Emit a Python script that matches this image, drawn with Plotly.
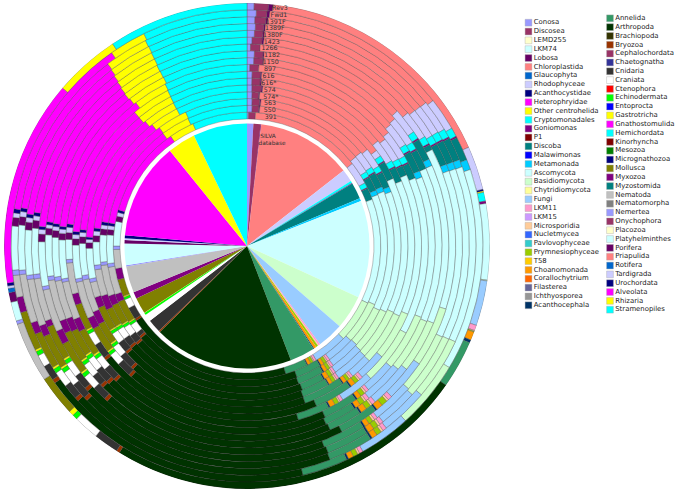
import plotly.graph_objects as go

# Rings from the centre out: the SILVA reference disc, then one ring per primer.
primers = ["391","550","563","574*","574","616*","616","897","1150","1182","1266",
           "1423","1380F","1389F","1391F","Fwd1","Rev3"]

left_names = ["Conosa","Discosea","LEMD255","LKM74","Lobosa","Chloroplastida","Glaucophyta","Rhodophyceae",
  "Acanthocystidae","Heterophryidae","Other centrohelida","Cryptomonadales","Goniomonas","P1","Discoba",
  "Malawimonas","Metamonada","Ascomycota","Basidiomycota","Chytridiomycota","Fungi","LKM11","LKM15",
  "Microsporidia","Nucletmycea","Pavlovophyceae","Prymnesiophyceae","T58","Choanomonada","Corallochytrium",
  "Filasterea","Ichthyosporea","Acanthocephala"]
left_colors = ["#9999ff","#993366","#ffffcc","#ccffff","#660066","#ff8080","#0066cc","#ccccff",
  "#000080","#ff00ff","#ffff00","#00ffff","#800080","#800000","#008080",
  "#0000ff","#00ccff","#ccffff","#ccffcc","#ffff99","#99ccff","#ff99cc","#cc99ff",
  "#ffcc99","#3366ff","#33cccc","#99cc00","#ffcc00","#ff9900","#ff6600",
  "#666699","#969696","#003366"]
right_names = ["Annelida","Arthropoda","Brachiopoda","Bryozoa","Cephalochordata","Chaetognatha","Cnidaria","Craniata",
  "Ctenophora","Echinodermata","Entoprocta","Gastrotricha","Gnathostomulida","Hemichordata","Kinorhyncha","Mesozoa",
  "Micrognathozoa","Mollusca","Myxozoa","Myzostomida","Nematoda","Nematomorpha","Nemertea","Onychophora","Placozoa",
  "Platyhelminthes","Porifera","Priapulida","Rotifera","Tardigrada","Urochordata","Alveolata","Rhizaria","Stramenopiles"]
right_colors = ["#339966","#003300","#333300","#993300","#993366","#333399","#333333","#ffffff",
  "#ff0000","#00ff00","#0000ff","#ffff00","#ff00ff","#00ffff","#800000","#008000",
  "#000080","#808000","#800080","#008080","#c0c0c0","#808080","#9999ff","#993366","#ffffcc",
  "#ccffff","#660066","#ff8080","#0066cc","#ccccff","#000080","#ff00ff","#ffff00","#00ffff"]

# Cumulative position (degrees clockwise from the top) where each taxon ends:
# SILVA, then the primers in the order above. None = taxon absent from that ring.
conosa = [3,0.7,2.1,2,1.9,1.8,1.7,1.7,0.9,2.1,2.2,1,1.4,2,2.2,2,2.3,1.7]
discosea = [6.4,3.7,4.9,5,4.4,5.2,4.6,4.5,3.8,5,4.8,3.8,4.2,4.3,4.4,4.8,4.9,5.1]
lobosa = [6.7,None,5.3,5.5,4.8,5.7,5.1,4.9,None,5.2,5.1,None,4.7,4.7,4.8,5.3,5.6,6.2]
chloroplastida = [52,52,50.7,50.6,51.3,53.6,51.3,52.3,51.3,49.8,49.3,48.1,50.4,51.1,51.2,51.3,52,66]
rhodophyceae = [58,61.9,58.1,57.7,58.8,56,59.5,60.1,60.3,57.4,57.9,55.6,58.4,59.2,59.2,59.4,60.1,76.5]
acanthocystidae = [None]*17 + [76.9]
other_centrohelida = [None]*17 + [77.2]
cryptomonadales = [59,64.1,60.3,59.9,61,58.2,61.7,62.3,62.5,59.6,60.1,57.8,60.6,61.4,61.4,61.6,62.3,79.3]
goniomonas = [59.3,64.4,60.7,60.3,61.4,58.6,62.1,62.7,62.9,60,60.5,58.2,61,61.8,61.8,62,62.7,79.9]
discoba = [67,69.6,66.6,66.3,67.4,65.2,67.2,66,68,66.5,66.6,64.5,62.5,67.7,67.8,67.9,68.6,None]
metamonada = [68.5,None,68.6,68.3,69.4,None,None,None,None,68.5,None,66.5,None,69.6,69.7,69.8,71.1,None]
ascomycota = [114.7,115.3,114.7,115.9,115.4,114.4,114.7,113,118.7,112.3,112.8,112.5,107.6,115,114.8,114.7,121,98.1]
basidiomycota = [130.9,133.9,132.3,132,132.6,133,133.2,129.4,137,130,129.2,127.7,124.4,131.5,132,130.5,137.8,98.3]
fungi = [143.4,148.8,144,144.2,145,145.2,140.9,138.7,148.1,139.8,141.3,140.6,136.2,142.8,142.3,142.6,150.6,109.1]
lkm11 = [144.2,149.8,145,145.2,146,146.1,141.8,139.8,149.1,140.8,142.4,141.7,137.4,143.7,143.3,143.6,151.5,110.4]
microsporidia = [144.6,150.3,145.6,145.8,146.6,146.7,142.4,140.4,149.6,141.4,143,142.3,138,144.3,143.9,144.2,152,110.6]
prymnesiophyceae = [145.6,151.5,146.9,147.1,148,148,143.6,141.8,151,142.8,144.5,143.8,139.7,145.5,145.3,145.5,153.2,110.8]
choanomonada = [146.8,152.9,148.2,148.5,149.7,149.3,144.9,143.4,152.7,144.2,146.1,145.5,141.5,146.8,146.9,146.9,154.5,112.8]
acanthocephala = [147.2,153.3,148.7,149,150.2,149.7,145.3,143.9,153.2,144.7,146.6,146,142,147.3,147.4,147.4,155,113.5]
annelida = [159,163.2,159.2,159.5,159,159.6,159.7,156.6,163.6,155.5,156.1,155.7,153,159,158.6,158.8,166.3,125]
arthropoda = [225.4,236,229,228,228.5,228,222.8,221.5,231,224,225,225.5,222,227.7,226,227.5,234.5,211.7]
bryozoa = [226,237,230,229,229.5,229,223.8,222.5,232,225,226,226.5,223,228.7,227,228.5,235.5,212.5]
cnidaria = [232.4,242.3,231.8,232.4,232.9,232.9,228.9,227.4,236.9,229.1,230.4,229.8,227.1,232.8,231.3,232.4,239.3,218.5]
craniata = [235.8,246.3,235.8,236.4,236.9,236.9,232.9,231.4,240.9,233.1,234.4,233.8,231.1,236.8,235.3,236.4,242.3,224.6]
echinodermata = [236.9,247.4,236.9,237.5,238,238,234,232.5,242,234.2,235.5,234.9,232.2,237.9,236.4,237.5,243.4,225.8]
gastrotricha = [237,247.9,237.4,238,238.5,238.5,234.5,233,242.5,234.7,236,235.4,232.7,238.4,236.9,238,243.9,227]
mollusca = [244.6,255.4,246.5,246.2,245.6,247.4,242.2,241.7,251,243,244,244.4,242,247.9,246,247.4,253.6,236.7]
myxozoa = [247.8,260.2,249.8,250.1,251,251.3,246.8,245.6,254.6,247,248,248.1,245.9,249.6,248.9,250.4,257.4,None]
nematoda = [260.4,268.5,261.3,262.4,261.1,256.9,258.3,258,264.6,258.9,259.6,260.1,257.8,261.2,261.3,262.8,262.8,251.2]
nemertea = [261,270,262.8,263.7,262.8,258.2,259.8,259.1,265.7,259.9,260.8,261.3,258.8,262.4,262.4,263.9,264.1,252]
platyhelminthes = [271.2,280.7,274.6,274.4,271.6,269.2,270.9,270.3,272.1,271.9,272.6,273.2,271.2,274.8,274.2,275.3,274.9,256.6]
porifera = [272.8,283,276.8,276.7,273.9,271.2,273.2,272.4,274.3,273.9,274.6,275.1,273.3,276.9,276.2,277.4,277,258.9]
rotifera = [None]*17 + [259.9]
tardigrada = [273.6,284.6,278.4,278.3,275.6,272.4,274.7,273.8,276,275.2,275.8,276.1,274.6,278.1,277.4,278.7,278.1,260.5]
urochordata = [275,285.7,279.5,279.5,276.7,273.2,275.6,274.8,277,276,276.6,276.9,275.4,279,278.3,279.6,279.1,261.2]
alveolata = [321,325.2,323.3,323.5,322,320.8,320,320,322.2,321.5,321.2,321.4,321.7,322,322.4,322.6,325,310.6]
rhizaria = [334.3,336.2,335.2,335.4,332.9,332.8,332.9,333,333.2,333.7,333.6,333.5,333.7,333.7,333.8,333.7,334.1,326.4]
stramenopiles = [360]*18

series = [("Conosa",conosa),("Discosea",discosea),("Lobosa",lobosa),("Chloroplastida",chloroplastida),
  ("Rhodophyceae",rhodophyceae),("Acanthocystidae",acanthocystidae),("Other centrohelida",other_centrohelida),
  ("Cryptomonadales",cryptomonadales),("Goniomonas",goniomonas),("Discoba",discoba),("Metamonada",metamonada),
  ("Ascomycota",ascomycota),("Basidiomycota",basidiomycota),("Fungi",fungi),("LKM11",lkm11),
  ("Microsporidia",microsporidia),("Prymnesiophyceae",prymnesiophyceae),("Choanomonada",choanomonada),
  ("Acanthocephala",acanthocephala),("Annelida",annelida),("Arthropoda",arthropoda),("Bryozoa",bryozoa),
  ("Cnidaria",cnidaria),("Craniata",craniata),("Echinodermata",echinodermata),("Gastrotricha",gastrotricha),
  ("Mollusca",mollusca),("Myxozoa",myxozoa),("Nematoda",nematoda),("Nemertea",nemertea),
  ("Platyhelminthes",platyhelminthes),("Porifera",porifera),("Rotifera",rotifera),("Tardigrada",tardigrada),
  ("Urochordata",urochordata),("Alveolata",alveolata),("Rhizaria",rhizaria),("Stramenopiles",stramenopiles)]

label_angles = [10.5,9.6,9.2,9.1,8.3,7.6,7.2,7.4,7.4,7.5,6.5,6.9,7,7.3,7.3,7.9,7.9]

# Layout constants (px of the 678x495 page).
W, H = 678, 495
CX, CY, R = 247, 246, 243
DISC_R, RING0, RING_W = 122.5, 127, 6.82

color_of = dict(zip(left_names + right_names, left_colors + right_colors))
fig = go.Figure()
previous = [0.0] * 18
for name, ends in series:
    rs, bases, thetas, widths, outlines = [], [], [], [], []
    for i, end in enumerate(ends):
        if end is None:
            continue
        start = previous[i]
        previous[i] = end
        rs.append(DISC_R if i == 0 else RING_W)
        bases.append(0 if i == 0 else RING0 + RING_W * (i - 1))
        thetas.append((start + end) / 2)
        widths.append(end - start)
        outlines.append(0 if i == 0 else 0.35)
    edge = "#1c1c1c" if name == "Arthropoda" else "#505050"
    fig.add_trace(go.Barpolar(r=rs, base=bases, theta=thetas, width=widths, name=name,
                              marker=dict(color=color_of[name], line=dict(color=edge, width=outlines)),
                              showlegend=False))

fig.add_trace(go.Scatterpolar(
    r=[RING0 + RING_W * (i + 0.5) for i in range(len(primers))], theta=label_angles,
    mode="text", text=primers, textfont=dict(family="DejaVu Sans", size=6.3, color="#333333"),
    textposition="middle center", showlegend=False, hoverinfo="skip"))
fig.add_trace(go.Scatterpolar(
    r=[111, 105], theta=[10.9, 13.8], mode="text", text=["SILVA", "database"],
    textfont=dict(family="DejaVu Sans", size=5.8, color="#333333"),
    textposition="middle center", showlegend=False, hoverinfo="skip"))

LEG_FONT = dict(family="DejaVu Sans", size=6.9, color="#222222")
for names, colors, x0, y0 in [(left_names, left_colors, 528.5, 22.7), (right_names, right_colors, 610, 18.3)]:
    fig.add_trace(go.Scatter(
        x=[x0] * len(names), y=[y0 + 8.83 * i for i in range(len(names))],
        mode="markers+text", text=names, textposition="middle right", textfont=LEG_FONT,
        marker=dict(symbol="square", size=6.8, color=colors, line=dict(color="#aaaaaa", width=0.4)),
        showlegend=False, hoverinfo="skip", cliponaxis=False))

fig.update_layout(
    width=W, height=H, margin=dict(l=0, r=0, t=0, b=0), showlegend=False,
    paper_bgcolor="white", plot_bgcolor="rgba(0,0,0,0)",
    font=dict(family="DejaVu Sans"),
    xaxis=dict(range=[0, W], domain=[0, 1], visible=False, fixedrange=True),
    yaxis=dict(range=[H, 0], domain=[0, 1], visible=False, fixedrange=True),
    polar=dict(
        domain=dict(x=[(CX - R) / W, (CX + R) / W], y=[(H - CY - R) / H, (H - CY + R) / H]),
        bgcolor="white",
        radialaxis=dict(range=[0, R], visible=False),
        angularaxis=dict(direction="clockwise", rotation=90, visible=False),
        barmode="overlay",
    ),
)
fig.write_html("out.html", config={"displayModeBar": False},
               post_script="document.body.style.margin='0';")
